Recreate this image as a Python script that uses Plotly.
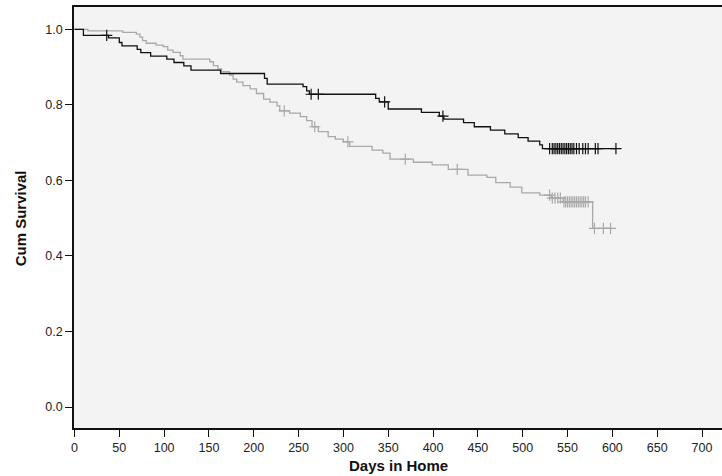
import numpy as np
import plotly.graph_objects as go

# Group 1 (black): event times and survival after each event
black_times = [0, 10, 38, 50, 53, 70, 74, 85, 103, 111, 122, 130, 163, 212, 215,
               255, 259, 262, 336, 340, 350, 387, 407, 412, 434, 446, 464, 480,
               495, 506, 519, 522]
black_surv = [1.0, 0.984, 0.977, 0.965, 0.956, 0.947, 0.938, 0.929, 0.921, 0.912,
              0.903, 0.892, 0.883, 0.870, 0.855, 0.848, 0.837, 0.828, 0.817, 0.808,
              0.789, 0.780, 0.770, 0.762, 0.753, 0.742, 0.733, 0.723, 0.713, 0.704,
              0.694, 0.684]
black_censor = [36, 264, 272, 346, 411, 530, 533, 535, 537, 539, 541, 543, 545, 547,
                549, 551, 553, 555, 557, 560, 563, 567, 570, 573, 581, 584, 604]

# Group 2 (gray)
gray_times = [0, 15, 54, 69, 73, 76, 80, 91, 99, 104, 110, 118, 121, 151, 155, 160,
              164, 173, 177, 181, 188, 196, 203, 211, 218, 226, 229, 240, 252, 259,
              265, 272, 283, 291, 300, 307, 332, 344, 352, 378, 399, 417, 439, 460,
              470, 486, 499, 519, 532, 545, 578]
gray_surv = [1.0, 0.996, 0.992, 0.987, 0.979, 0.970, 0.963, 0.958, 0.954, 0.945,
             0.939, 0.930, 0.921, 0.914, 0.904, 0.895, 0.888, 0.879, 0.868, 0.860,
             0.851, 0.842, 0.830, 0.815, 0.807, 0.797, 0.784, 0.778, 0.769, 0.758,
             0.742, 0.729, 0.716, 0.709, 0.702, 0.690, 0.680, 0.672, 0.656, 0.648,
             0.641, 0.629, 0.614, 0.608, 0.594, 0.582, 0.567, 0.561, 0.553, 0.543,
             0.473]
gray_censor = [234, 268, 305, 369, 427, 530, 533, 536, 539, 542, 546, 548, 550, 552,
               554, 556, 558, 560, 562, 564, 566, 568, 570, 573, 580, 590, 598]

x_ticks = list(range(0, 701, 50))
y_ticks = [0.0, 0.2, 0.4, 0.6, 0.8, 1.0]

BLACK = "#111111"
GRAY = "#a9a9a9"


def km_traces(times, surv, censor, color):
    times = np.asarray(times, float)
    surv = np.asarray(surv, float)
    censor = np.asarray(censor, float)
    idx = np.searchsorted(times, censor, side="right") - 1
    cy = surv[idx]
    end = censor.max()
    lx = list(times) + [end]
    ly = list(surv) + [surv[-1]]
    line = go.Scatter(x=lx, y=ly, mode="lines", line=dict(color=color, width=1.3, shape="hv"),
                      hoverinfo="skip", showlegend=False)
    marks = go.Scatter(x=censor, y=cy, mode="markers",
                       marker=dict(symbol="cross-thin", size=8, line=dict(color=color, width=1.2)),
                       hoverinfo="skip", showlegend=False)
    return [line, marks]


fig = go.Figure()
for t in km_traces(gray_times, gray_surv, gray_censor, GRAY):
    fig.add_trace(t)
for t in km_traces(black_times, black_surv, black_censor, BLACK):
    fig.add_trace(t)

font_main = "Arial, Liberation Sans, sans-serif"
fig.update_layout(
    width=722, height=476,
    margin=dict(l=74, r=0, t=7, b=48),
    paper_bgcolor="white",
    plot_bgcolor="#f3f3f3",
    font=dict(family=font_main, size=12.5, color="#222222"),
    xaxis=dict(
        range=[-0.5, 722.3], tickvals=x_ticks, ticktext=[str(v) for v in x_ticks],
        ticks="outside", ticklen=7, tickcolor="#111", tickwidth=1,
        showline=True, linecolor="#111", linewidth=1.5, mirror=True,
        showgrid=False, zeroline=False, automargin=False,
    ),
    yaxis=dict(
        range=[-0.0556, 1.059], tickvals=y_ticks, ticktext=[f"{v:.1f}" for v in y_ticks],
        ticks="outside", ticklen=7, tickcolor="#111", tickwidth=1,
        showline=True, linecolor="#111", linewidth=1.5, mirror=False,
        showgrid=False, zeroline=False, automargin=False,
    ),
    annotations=[
        dict(text="<b>Days in Home</b>", xref="paper", yref="paper", x=0.5, y=-0.09,
             xanchor="center", yanchor="middle", showarrow=False,
             font=dict(size=15, family=font_main, color="#111")),
        dict(text="<b>Cum Survival</b>", xref="paper", yref="paper", x=-0.0833, y=0.498,
             xanchor="center", yanchor="middle", showarrow=False, textangle=-90,
             font=dict(size=15, family="Liberation Sans Narrow, Arial Narrow, Liberation Sans, sans-serif",
                       color="#111")),
    ],
)

fig.write_html("out.html", config={"displayModeBar": False},
               post_script="document.body.style.margin='0';")
